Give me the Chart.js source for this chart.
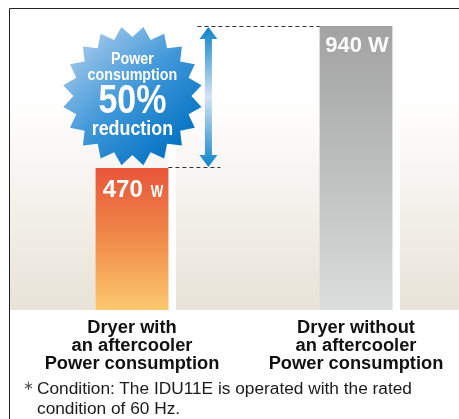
<!DOCTYPE html>
<html><head><meta charset="utf-8">
<script src="https://cdn.jsdelivr.net/npm/chart.js@4.4.0/dist/chart.umd.min.js"></script>
<style>
html,body{margin:0;padding:0;background:#fff;width:459px;height:419px;overflow:hidden;position:relative;}
#wrap{position:absolute;left:0;top:0;width:470px;height:419px;}
#note{position:absolute;left:23px;top:378px;font:17.3px "Liberation Sans",Arial,sans-serif;color:#1a1a1a;line-height:20px;}
#note .ast{position:absolute;left:0;top:0;font:13px "DejaVu Sans",sans-serif;color:#555;}
#note .txt{position:absolute;left:14px;top:0;white-space:nowrap;}
</style></head>
<body>
<div id="wrap"><canvas id="c" width="470" height="419"></canvas></div>
<div id="note"><span class="ast">∗</span><span class="txt">Condition: The IDU11E is operated with the rated<br>condition of 60 Hz.</span></div>
<script>
const categories = [
  ["Dryer with", "an aftercooler", "Power consumption"],
  ["Dryer without", "an aftercooler", "Power consumption"]
];
const powerW = [470, 940];
const valueUnit = "W";
const badgeLines = ["Power", "consumption", "reduction"];

const barGrad = [
  ["#e8553a", "#f08b49", "#fbc86f"],
  ["#a1a2a1", "#bdbebe", "#dcdddd"]
];

const FONT = '"Liberation Sans", Arial, Helvetica, sans-serif';

function condText(c, txt, x, y, font, sx, align) {
  c.save();
  c.font = font;
  const w = c.measureText(txt).width * sx;
  let left = x;
  if (align === 'center') left = x - w / 2;
  c.translate(left, y);
  c.scale(sx, 1);
  c.textAlign = 'left';
  c.fillText(txt, 0, 0);
  c.restore();
  return w;
}

const deco = {
  id: 'deco',
  beforeDraw(chart) {
    const c = chart.ctx, a = chart.chartArea;
    const meta = chart.getDatasetMeta(0);
    c.save();
    const g = c.createLinearGradient(0, a.top, 0, a.bottom);
    g.addColorStop(0, '#ffffff');
    g.addColorStop(0.3, '#ffffff');
    g.addColorStop(1, '#e8e3d8');
    c.fillStyle = g;
    c.fillRect(10, a.top + 1, 459 - 10, a.bottom - a.top - 1);
    c.fillStyle = '#ffffff';
    meta.data.forEach(b => {
      c.fillRect(b.x + b.width / 2, a.top, 7.5, a.bottom - a.top);
    });
    c.strokeStyle = '#222';
    c.lineWidth = 1;
    c.beginPath();
    c.moveTo(9.5, 419); c.lineTo(9.5, a.top + 0.5); c.lineTo(470, a.top + 0.5);
    c.stroke();
    c.restore();
  },
  afterDatasetsDraw(chart) {
    const c = chart.ctx, a = chart.chartArea, y = chart.scales.y;
    const meta = chart.getDatasetMeta(0);
    const b0 = meta.data[0], b1 = meta.data[1];
    const yHi = y.getPixelForValue(powerW[1]);
    const yLo = y.getPixelForValue(powerW[0]);
    const r0 = b0.x + b0.width / 2;
    const l1 = b1.x - b1.width / 2;
    const ax = r0 + 40;
    c.save();
    c.strokeStyle = '#333';
    c.lineWidth = 1;
    c.setLineDash([4, 3]);
    c.beginPath();
    c.moveTo(ax - 11, Math.round(yHi) + 0.5); c.lineTo(l1, Math.round(yHi) + 0.5);
    c.moveTo(r0, Math.round(yLo) - 0.5); c.lineTo(ax + 12, Math.round(yLo) - 0.5);
    c.stroke();
    c.setLineDash([]);
    const ag = c.createLinearGradient(0, yHi, 0, yLo);
    ag.addColorStop(0, '#0a82c8');
    ag.addColorStop(0.5, '#d3e3f4');
    ag.addColorStop(1, '#0a82c8');
    c.fillStyle = ag;
    const t = yHi + 1, bt = yLo - 1, hw = 9, hh = 12, sw = 3.5;
    c.beginPath();
    c.moveTo(ax, t);
    c.lineTo(ax + hw, t + hh); c.lineTo(ax + sw, t + hh);
    c.lineTo(ax + sw, bt - hh); c.lineTo(ax + hw, bt - hh);
    c.lineTo(ax, bt);
    c.lineTo(ax - hw, bt - hh); c.lineTo(ax - sw, bt - hh);
    c.lineTo(ax - sw, t + hh); c.lineTo(ax - hw, t + hh);
    c.closePath();
    c.fill();
    // badge star (valley at top and bottom)
    const cx = ax - 76, cy = (yHi + yLo) / 2 - 1;
    const N = 20, Ro = 70, Ri = 59;
    c.beginPath();
    for (let i = 0; i < 2 * N; i++) {
      const ang = -Math.PI / 2 + Math.PI / N + i * Math.PI / N;
      const r = (i % 2 === 0) ? Ro : Ri;
      const px = cx + r * Math.cos(ang), py = cy + r * Math.sin(ang);
      if (i === 0) c.moveTo(px, py); else c.lineTo(px, py);
    }
    c.closePath();
    const sg = c.createLinearGradient(cx - 55, cy - 60, cx + 50, cy + 55);
    sg.addColorStop(0, '#a9cbec');
    sg.addColorStop(0.5, '#3f97d8');
    sg.addColorStop(1, '#0070c2');
    c.fillStyle = sg;
    c.fill();
    const pct = Math.round((1 - powerW[0] / powerW[1]) * 100) + '%';
    c.fillStyle = '#ffffff';
    c.textBaseline = 'alphabetic';
    condText(c, badgeLines[0], cx, cy - 32, 'bold 17px ' + FONT, 0.84, 'center');
    condText(c, badgeLines[1], cx, cy - 16, 'bold 17px ' + FONT, 0.84, 'center');
    condText(c, pct, cx, cy + 17, 'bold 40px ' + FONT, 0.85, 'center');
    condText(c, badgeLines[2], cx, cy + 39, 'bold 21px ' + FONT, 0.85, 'center');
    // 470 W
    c.font = 'bold 24px ' + FONT;
    const n0 = String(powerW[0]);
    const w0 = c.measureText(n0).width;
    c.font = 'bold 17px ' + FONT;
    const wu = c.measureText(valueUnit).width * 0.78;
    const tot0 = w0 + 8 + wu;
    const lx0 = b0.x - tot0 / 2 + 1;
    c.font = 'bold 24px ' + FONT;
    c.textAlign = 'left';
    c.fillText(n0, lx0, b0.y + 29);
    condText(c, valueUnit, lx0 + w0 + 8, b0.y + 29, 'bold 17px ' + FONT, 0.78, 'left');
    // 940 W
    c.font = 'bold 22px ' + FONT;
    c.textAlign = 'center';
    c.fillStyle = 'rgba(255,255,255,0.95)';
    c.fillText(powerW[1] + ' ' + valueUnit, b1.x + 1, b1.y + 26);
    c.restore();
  }
};

new Chart(document.getElementById('c'), {
  type: 'bar',
  data: {
    labels: categories,
    datasets: [{
      data: powerW,
      borderWidth: 0,
      barPercentage: 0.325,
      categoryPercentage: 1,
      backgroundColor: (ctx) => {
        const ch = ctx.chart;
        const cols = barGrad[ctx.dataIndex];
        if (!ch.chartArea || !ch.scales.y) return cols[1];
        const top = ch.scales.y.getPixelForValue(ctx.raw);
        const g = ch.ctx.createLinearGradient(0, top, 0, ch.chartArea.bottom);
        g.addColorStop(0, cols[0]);
        g.addColorStop(0.5, cols[1]);
        g.addColorStop(1, cols[2]);
        return g;
      }
    }]
  },
  options: {
    responsive: false,
    animation: false,
    events: [],
    layout: { padding: { left: 20, right: 2, top: 8, bottom: 0 } },
    plugins: { legend: { display: false }, tooltip: { enabled: false }, title: { display: false } },
    scales: {
      y: { display: false, min: 0, max: 1000 },
      x: {
        grid: { display: false, drawTicks: false },
        border: { display: false },
        afterFit: (s) => { s.height = 109; },
        ticks: {
          padding: 9,
          color: '#111',
          maxRotation: 0,
          autoSkip: false,
          font: { family: FONT, size: 18.3, weight: 'bold', lineHeight: 0.985 }
        }
      }
    }
  },
  plugins: [deco]
});
</script>
</body></html>
